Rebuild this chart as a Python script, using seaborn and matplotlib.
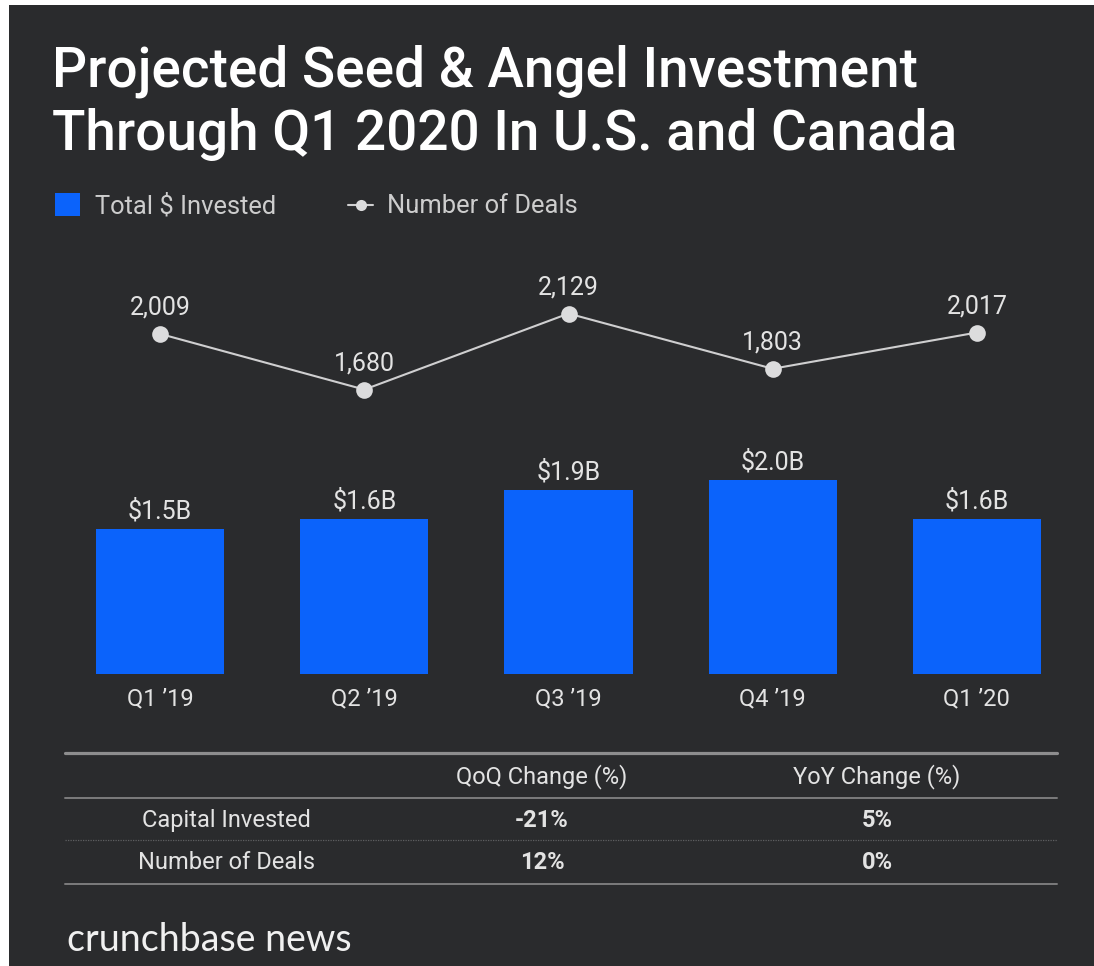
import numpy as np
import pandas as pd
import matplotlib
matplotlib.use("Agg")
import matplotlib.pyplot as plt
from matplotlib.patches import Rectangle
from matplotlib.lines import Line2D
from matplotlib import font_manager
import seaborn as sns

# Quarterly seed & angel figures
quarters = ["Q1 \u201919", "Q2 \u201919", "Q3 \u201919", "Q4 \u201919", "Q1 \u201920"]
invested_b = [1.5, 1.6, 1.9, 2.0, 1.6]
deals = [2009, 1680, 2129, 1803, 2017]

# Change summary table
table_headers = ["QoQ Change (%)", "YoY Change (%)"]
table_metrics = ["Capital Invested", "Number of Deals"]
qoq_change = ["-21%", "12%"]
yoy_change = ["5%", "0%"]

title_lines = ["Projected Seed & Angel Investment", "Through Q1 2020 In U.S. and Canada"]

BG = "#2a2b2d"
BLUE = "#0b63fb"
LINE = "#cfcfd0"
TXT = "#e3e3e3"
FONT = "Roboto"

sns.set_theme(style="white")
plt.rcParams["font.family"] = [FONT, "DejaVu Sans"]

roboto_weights = sorted({f.weight for f in font_manager.fontManager.ttflist if f.name == FONT},
                        key=str)
print("Roboto weights:", roboto_weights)

W, H = 1094, 966
fig = plt.figure(figsize=(W / 100, H / 100), dpi=100, facecolor="white")

# full-figure overlay in pixel coordinates for panel, title, legend and table
ov = fig.add_axes([0, 0, 1, 1], zorder=0)
ov.set_xlim(0, W)
ov.set_ylim(H, 0)
ov.axis("off")
ov.add_patch(Rectangle((9, 5), W - 9, H - 5, color=BG, lw=0))

# chart axes: bars share the baseline with the deals line
left_px, right_px, top_px, base_px = 58, 1079, 260, 674
ax = fig.add_axes([left_px / W, (H - base_px) / H, (right_px - left_px) / W,
                   (base_px - top_px) / H], zorder=2)
ax.set_facecolor("none")

df = pd.DataFrame({"quarter": quarters, "invested": invested_b, "deals": deals})
sns.barplot(data=df, x="quarter", y="invested", ax=ax, color=BLUE,
            saturation=1, width=0.627, linewidth=0)
ax.set_xlim(-0.5, 4.5)
ax.set_ylim(0, (base_px - top_px) / 97)
for i, v in enumerate(invested_b):
    ax.annotate(f"${v:.1f}B", (i, v), xytext=(0, 10), textcoords="offset pixels",
                ha="center", va="baseline", color=TXT, fontsize=18)
ax.set_xlabel("")
ax.set_ylabel("")
ax.set_yticks([])
ax.tick_params(axis="x", length=0, pad=9.5, labelsize=17, labelcolor=TXT)
for s in ax.spines.values():
    s.set_visible(False)

ax2 = ax.twinx()
ax2.set_zorder(3)
sns.lineplot(x=np.arange(len(deals)), y=deals, ax=ax2, color=LINE, linewidth=1.5,
             marker="o", markersize=12, markeredgewidth=0, markerfacecolor="#dcdcdd")
ax2.set_ylim(0, (base_px - top_px) / 0.1693)
ax2.set_xlim(-0.5, 4.5)
ax2.set_yticks([])
ax2.set_ylabel("")
for s in ax2.spines.values():
    s.set_visible(False)
for i, d in enumerate(deals):
    ax2.annotate(f"{d:,}", (i, d), xytext=(0, 19), textcoords="offset pixels",
                 ha="center", va="baseline", color=TXT, fontsize=18)

# title
for k, line in enumerate(title_lines):
    ov.text(52, 87 + 63 * k, line, color="white", fontsize=39.5,
            fontweight=500, va="baseline", ha="left")

# legend
ov.add_patch(Rectangle((55, 193), 25, 23, color=BLUE, lw=0))
ov.text(95, 213, "Total $ Invested", color="#cdcdcd", fontsize=18.4, va="baseline")
ov.add_line(Line2D([348, 373], [205, 205], color=LINE, lw=1.5))
ov.plot([360.5], [205], "o", color="#dcdcdd", markersize=8, markeredgewidth=0)
ov.text(387, 213, "Number of Deals", color="#cdcdcd", fontsize=18.4, va="baseline")

# summary table
tx0, tx1 = 65, 1057
ov.add_line(Line2D([tx0, tx1], [753, 753], color="#8d8d8e", lw=2.3))
ov.add_line(Line2D([tx0, tx1], [798, 798], color="#7c7c7d", lw=1.4))
ov.add_line(Line2D([tx0, tx1], [840, 840], color="#5e5f61", lw=0.9, ls=(0, (1, 1))))
ov.add_line(Line2D([tx0, tx1], [884, 884], color="#7c7c7d", lw=1.4))
col_x = [542, 877]
for cx, hd in zip(col_x, table_headers):
    ov.text(cx, 783, hd, ha="center", va="baseline", color=TXT, fontsize=17)
for r, metric in enumerate(table_metrics):
    yb = 827 + 42 * r
    ov.text(226, yb, metric, ha="center", va="baseline", color=TXT, fontsize=17)
    ov.text(col_x[0], yb, qoq_change[r], ha="center", va="baseline", color=TXT,
            fontsize=17, fontweight="bold")
    ov.text(col_x[1], yb, yoy_change[r], ha="center", va="baseline", color=TXT,
            fontsize=17, fontweight="bold")

# footer brand
ov.text(67, 951, "crunchbase news", color="#f0f0f0", fontsize=27,
        family=["Lato", "DejaVu Sans"], va="baseline")

fig.savefig("out.png", dpi=100, facecolor=fig.get_facecolor())
